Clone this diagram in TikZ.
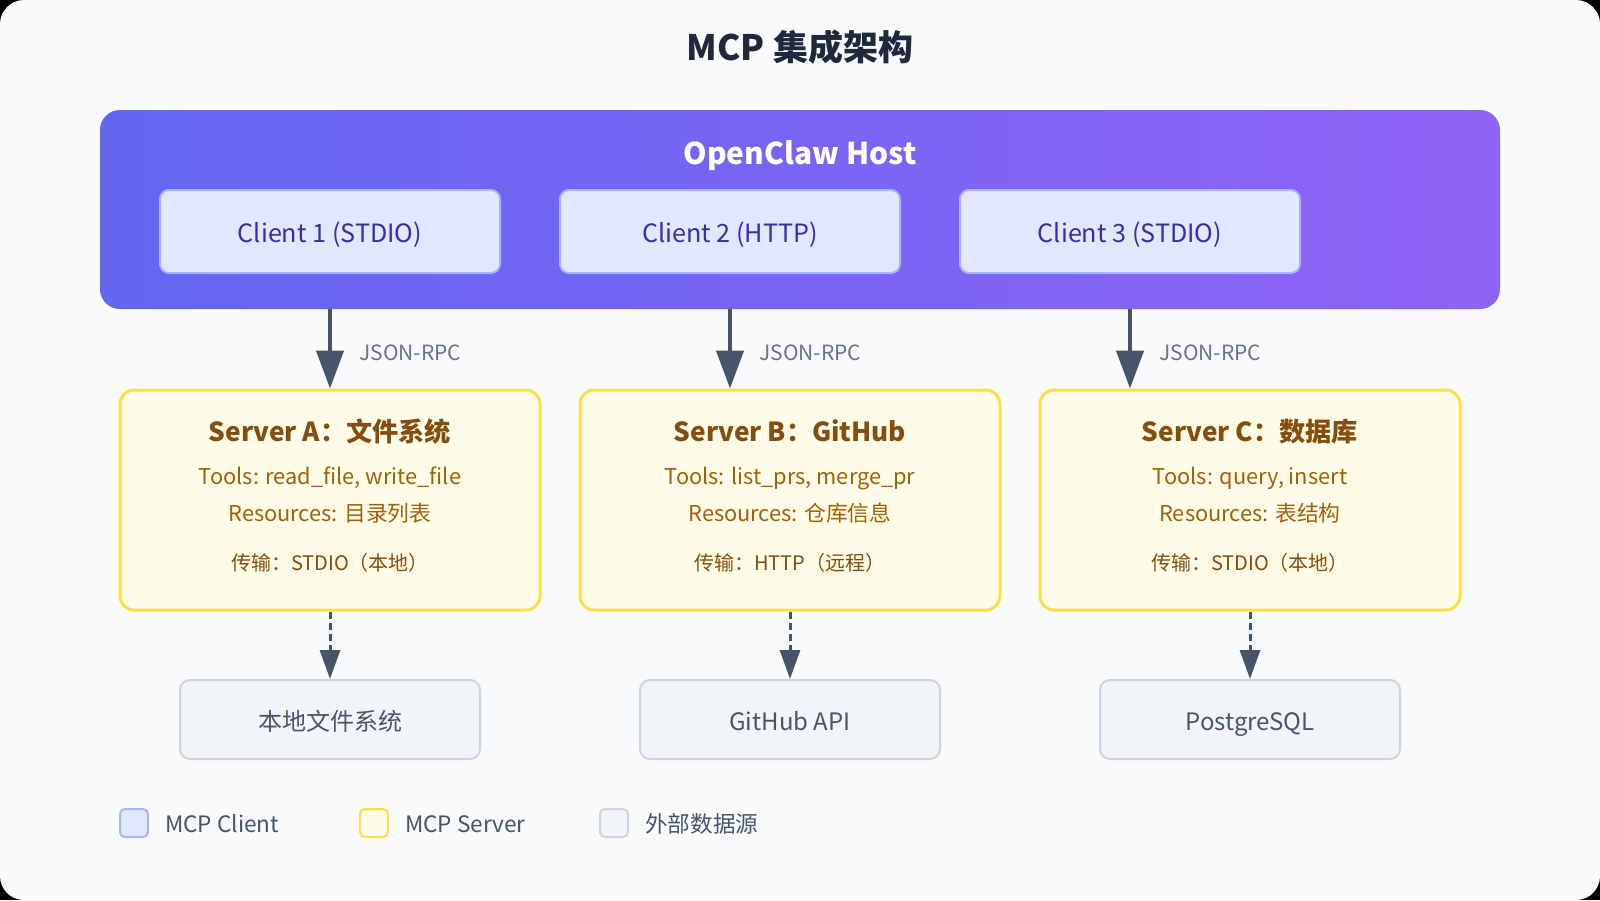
\documentclass[tikz,border=0pt]{standalone}
\usepackage{fontspec}
\setmainfont{Noto Sans CJK SC}
\usetikzlibrary{arrows.meta,positioning}
\definecolor{bgC}{HTML}{F8FAFC}
\definecolor{titleC}{HTML}{1E293B}
\definecolor{hostL}{HTML}{6366F1}
\definecolor{hostR}{HTML}{8F63F6}
\definecolor{clientF}{HTML}{E0E7FF}
\definecolor{clientB}{HTML}{A5B4FC}
\definecolor{clientT}{HTML}{3730A3}
\definecolor{srvF}{HTML}{FEFCE8}
\definecolor{srvB}{HTML}{FDE047}
\definecolor{srvT}{HTML}{854D0E}
\definecolor{srvL}{HTML}{A16207}
\definecolor{extF}{HTML}{F1F5F9}
\definecolor{extB}{HTML}{CBD5E1}
\definecolor{extT}{HTML}{475569}
\definecolor{arrowC}{HTML}{475569}
\definecolor{lblC}{HTML}{64748B}
\tikzset{
  host/.style={rounded corners=20pt, left color=hostL, right color=hostR, draw=none,
               minimum width=1400pt, minimum height=199pt},
  hostlbl/.style={text height=25.5pt, text depth=4.5pt, text=white,
                  font=\fontsize{30}{36}\selectfont\bfseries},
  client/.style={draw=clientB, fill=clientF, line width=2pt, rounded corners=9pt,
                 minimum width=340pt, minimum height=83pt, text=clientT,
                 text height=25.4pt, text depth=3.8pt, font=\fontsize{25.2}{30}\selectfont},
  server/.style={draw=srvB, fill=srvF, line width=3pt, rounded corners=14pt,
                 minimum width=420pt, minimum height=220pt},
  stitle/.style={text height=22.3pt, text depth=3.9pt, text=srvT,
                 font=\fontsize{26.2}{32}\selectfont\bfseries},
  sline/.style={text height=18.5pt, text depth=3.3pt, text=srvL,
                font=\fontsize{21.8}{28}\selectfont},
  strans/.style={text height=17pt, text depth=3pt, text=srvT,
                 font=\fontsize{20}{24}\selectfont},
  ext/.style={draw=extB, fill=extF, line width=2pt, rounded corners=10pt,
              minimum width=300pt, minimum height=79pt, text=extT,
              text height=26.4pt, text depth=3.6pt, font=\fontsize{24}{28}\selectfont},
  rpc/.style={-{Triangle[length=38pt,width=27pt]}, draw=arrowC, line width=4.5pt},
  feed/.style={-{Triangle[length=29pt,width=20pt]}, draw=arrowC, line width=3pt,
               dash pattern=on 7pt off 4pt},
  lbl/.style={text height=17.9pt, text depth=3.2pt, text=lblC,
              font=\fontsize{21}{24}\selectfont, anchor=west, inner sep=0pt},
  legbox/.style={rounded corners=5pt, line width=2pt, minimum size=28pt, inner sep=0pt},
  legtxt/.style={text height=23.2pt, text depth=3.4pt, text=extT,
                 font=\fontsize{22.6}{26}\selectfont, inner sep=0pt},
}

\begin{document}
\begin{tikzpicture}[x=1pt, y=-1pt]
\fill[black] (0,0) rectangle (1600,900);
\fill[bgC, rounded corners=24pt] (0,0) rectangle (1600,900);

\node[text height=29.75pt, text depth=5.25pt, text=titleC,
      font=\fontsize{35}{40}\selectfont\bfseries] (title) at (800,48) {MCP 集成架构};

% host and its clients
\node[host] (host) at (800,209.5) {};
\node[hostlbl] (hostlbl) at (800,154) {OpenClaw Host};
\node[client] (c1) at (330,231.5) {Client 1 (STDIO)};
\node[client, right=58pt of c1] (c2) {Client 2 (HTTP)};
\node[client, right=58pt of c2] (c3) {Client 3 (STDIO)};

% servers
\node[server] (sA) at (330,500) {};
\node[server, right=37pt of sA] (sB) {};
\node[server, right=37pt of sB] (sC) {};

\node[stitle] (sAname) at ([yshift=-44pt]sA.north) {Server A：文件系统};
\node[sline]  (sAtools) at ([yshift=-88pt]sA.north) {Tools: read\_file, write\_file};
\node[sline]  (sAres) at ([yshift=-125pt]sA.north) {Resources: 目录列表};
\node[strans] (sAtr) at ([yshift=-175pt]sA.north) {传输：STDIO（本地）};

\node[stitle] (sBname) at ([yshift=-44pt]sB.north) {Server B：GitHub};
\node[sline]  (sBtools) at ([yshift=-88pt]sB.north) {Tools: list\_prs, merge\_pr};
\node[sline]  (sBres) at ([yshift=-125pt]sB.north) {Resources: 仓库信息};
\node[strans] (sBtr) at ([yshift=-175pt]sB.north) {传输：HTTP（远程）};

\node[stitle] (sCname) at ([yshift=-44pt]sC.north) {Server C：数据库};
\node[sline]  (sCtools) at ([yshift=-88pt]sC.north) {Tools: query, insert};
\node[sline]  (sCres) at ([yshift=-125pt]sC.north) {Resources: 表结构};
\node[strans] (sCtr) at ([yshift=-175pt]sC.north) {传输：STDIO（本地）};

% external sources
\node[ext, below=67.5pt of sA] (eA) {本地文件系统};
\node[ext, below=67.5pt of sB] (eB) {GitHub API};
\node[ext, below=67.5pt of sC] (eC) {PostgreSQL};

\draw[rpc] (c1 |- host.south) -- node[lbl, xshift=27pt, yshift=-4pt] (r1) {JSON-RPC} (c1 |- sA.north);
\draw[rpc] (c2 |- host.south) -- node[lbl, xshift=27pt, yshift=-4pt] (r2) {JSON-RPC} (c2 |- sB.north);
\draw[rpc] (c3 |- host.south) -- node[lbl, xshift=27pt, yshift=-4pt] (r3) {JSON-RPC} (c3 |- sC.north);

\draw[feed] (sA) -- (eA);
\draw[feed] (sB) -- (eB);
\draw[feed] (sC) -- (eC);

% legend
\node[legbox, draw=clientB, fill=clientF] (lg1) at (134,823) {};
\node[legtxt, right=16pt of lg1] (lg1t) {MCP Client};
\node[legbox, draw=srvB, fill=srvF] (lg2) at (374,823) {};
\node[legtxt, right=16pt of lg2] (lg2t) {MCP Server};
\node[legbox, draw=extB, fill=extF] (lg3) at (614,823) {};
\node[legtxt, right=16pt of lg3] (lg3t) {外部数据源};
\end{tikzpicture}
\end{document}
